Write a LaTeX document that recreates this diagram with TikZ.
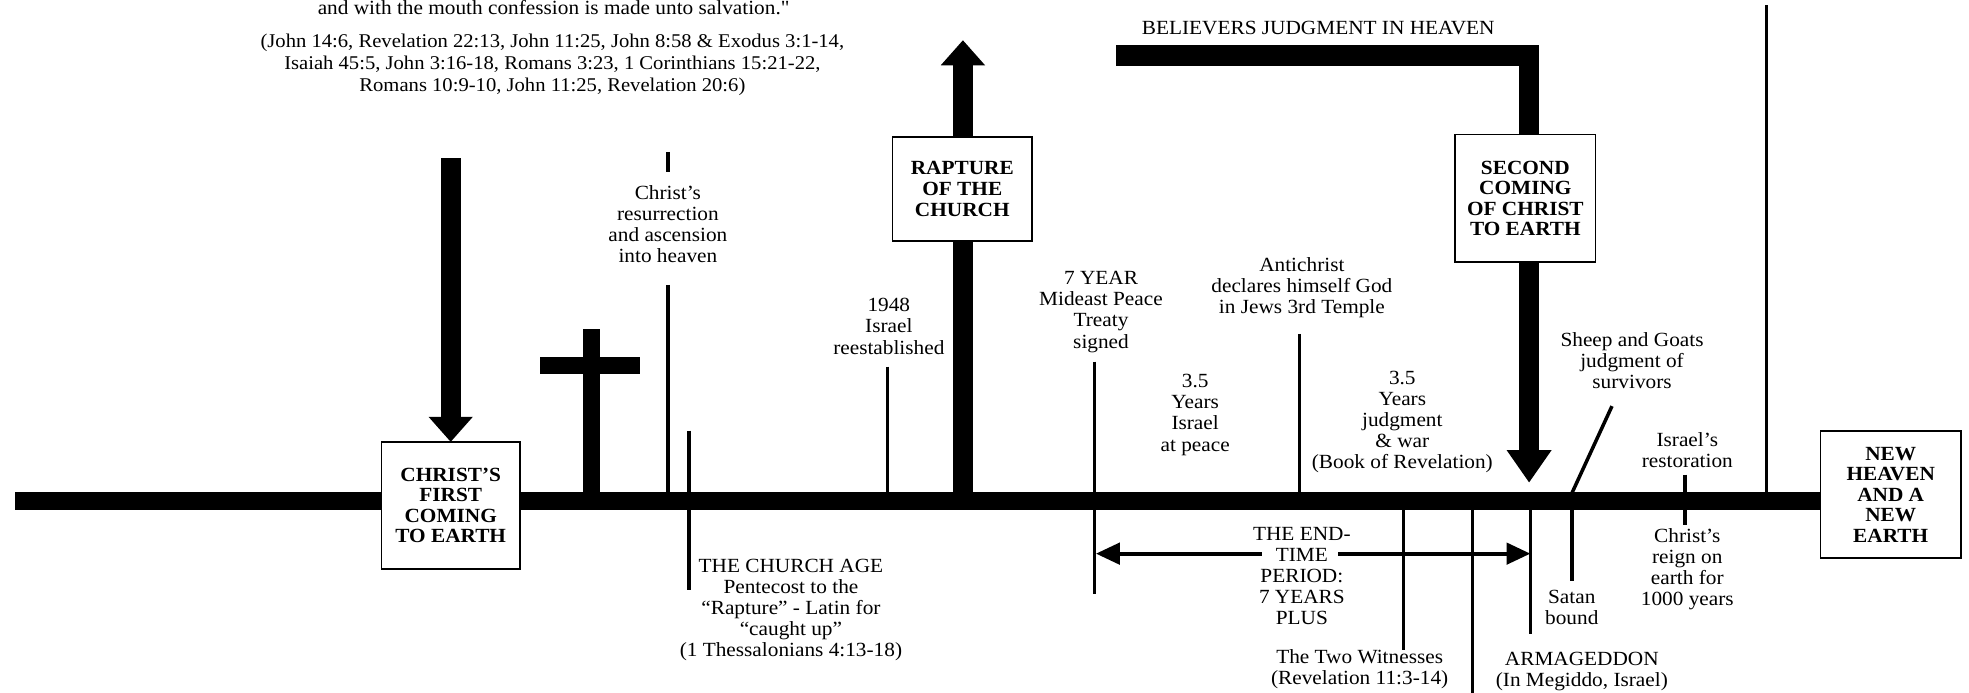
\documentclass[tikz,border=0pt]{standalone}
\usepackage{fontspec}
\setmainfont{Liberation Serif}[FakeStretch=1.06]
\newfontfamily\plainquotefont{Liberation Serif}[FakeStretch=1.06]
\usetikzlibrary{arrows.meta}
\begin{document}
\begin{tikzpicture}[x=1pt,y=-1pt,
  txt/.style={font=\fontsize{16}{16.8}\selectfont, align=center, inner sep=0pt},
  reftxt/.style={font=\fontsize{15.5}{17.5}\selectfont, align=center, inner sep=0pt},
  boxnode/.style={draw, line width=1.3pt, fill=white, align=center, inner sep=0pt,
    font=\bfseries\fontsize{16}{16.4}\selectfont},
  thinline/.style={line width=2.8pt},
  mainline/.style={line width=14pt},
  bigarrow/.style={line width=16pt, -{Triangle[length=20pt,width=34pt]}},
  tarrow/.style={line width=3pt, -{Triangle[length=19pt,width=17pt]}}]
\useasboundingbox (0,0) rectangle (1568.4,552);

% ---- coordinates ----
\coordinate (mlL) at (12,399);
\coordinate (mlR) at (1452,399);
\coordinate (fcTop) at (359,126);
\coordinate (fcTip) at (359,352);
\coordinate (rpBase) at (767,399);
\coordinate (rpTip) at (767,32);
\coordinate (scStart) at (889,44.25);
\coordinate (scCorner) at (1218,44.25);
\coordinate (scTip) at (1218,384.5);
\coordinate (etL) at (873,441);
\coordinate (etLs) at (1005,441);
\coordinate (etRs) at (1066,441);
\coordinate (etR) at (1219,441);

% ---- main timeline ----
\draw[mainline] (mlL) -- (mlR);

% ---- cross ----
\fill (464,262) rectangle (478,399);
\fill (430,284) rectangle (510,298);

% ---- thin ticks ----
\draw[thinline] (532,121) -- (532,137);
\draw[thinline] (532,227) -- (532,399);
\draw[thinline] (549,343) -- (549,470);
\draw[thinline] (707,292) -- (707,399);
\draw[thinline] (872,288) -- (872,473);
\draw[thinline] (1035,266) -- (1035,399);
\draw[thinline] (1118,399) -- (1118,518);
\draw[thinline] (1173,399) -- (1173,553);
\draw[thinline] (1219,399) -- (1219,505);
\draw[thinline] (1252,399) -- (1252,463);
\draw[thinline] (1252,393) -- (1284,323.5);
\draw[thinline] (1342,378) -- (1342,418);
\draw[thinline] (1407,4) -- (1407,399);

% ---- big arrows ----
\draw[bigarrow] (fcTop) -- (fcTip);
\draw[bigarrow] (rpBase) -- (rpTip);
\draw[line width=16.5pt, line join=miter, -{Triangle[length=26pt,width=34pt]}] (scStart) -- (scCorner) -- (scTip);

% ---- end-time arrow ----
\draw[tarrow] (etLs) -- (etL);
\draw[tarrow] (etRs) -- (etR);

% ---- boxes ----
\node[boxnode, minimum width=110pt, minimum height=101pt] (first) at (359,402.5) {CHRIST’S\\FIRST\\COMING\\TO EARTH};
\node[boxnode, minimum width=111pt, minimum height=83pt] (rapture) at (766.5,150.5) {RAPTURE\\OF THE\\CHURCH};
\node[boxnode, minimum width=112pt, minimum height=101.5pt] (second) at (1215,158) {SECOND\\COMING\\OF CHRIST\\TO EARTH};
\node[boxnode, minimum width=112pt, minimum height=101pt] (newearth) at (1506,394) {NEW\\HEAVEN\\AND A\\NEW\\EARTH};

% ---- texts ----
\node[txt] (quote) at (441,6) {and with the mouth confession is made unto salvation.{\plainquotefont"}};
\node[reftxt] (refs) at (440,51.5) {(John 14:6, Revelation 22:13, John 11:25, John 8:58 \& Exodus 3:1-14,\\Isaiah 45:5, John 3:16-18, Romans 3:23, 1 Corinthians 15:21-22,\\Romans 10:9-10, John 11:25, Revelation 20:6)};
\node[txt] (believers) at (1050,22) {BELIEVERS JUDGMENT IN HEAVEN};
\node[txt] (resur) at (532,178.5) {Christ’s\\resurrection\\and ascension\\into heaven};
\node[txt] (israel48) at (708,260) {1948\\Israel\\reestablished};
\node[txt] (treaty) at (877,248.5) {7 YEAR\\Mideast Peace\\Treaty\\signed};
\node[txt] (peace) at (952,330.5) {3.5\\Years\\Israel\\at peace};
\node[txt] (antichrist) at (1037,229) {Antichrist\\declares himself God\\in Jews 3rd Temple};
\node[txt] (war) at (1117,336) {3.5\\Years\\judgment\\\& war\\(Book of Revelation)};
\node[txt] (sheep) at (1300,287.5) {Sheep and Goats\\judgment of\\survivors};
\node[txt] (restor) at (1344,358.5) {Israel’s\\restoration};
\node[txt] (reign) at (1344,453.5) {Christ’s\\reign on\\earth for\\1000 years};
\node[txt] (church) at (630,486) {THE CHURCH AGE\\Pentecost to the\\“Rapture” - Latin for\\“caught up”\\(1 Thessalonians 4:13-18)};
\node[txt] (endtime) at (1037,459) {THE END-\\TIME\\PERIOD:\\7 YEARS\\PLUS};
\node[txt] (satan) at (1252,484) {Satan\\bound};
\node[txt] (armag) at (1260,535) {ARMAGEDDON\\(In Megiddo, Israel)};
\node[txt] (witness) at (1083,533) {The Two Witnesses\\(Revelation 11:3-14)};
\end{tikzpicture}
\end{document}
